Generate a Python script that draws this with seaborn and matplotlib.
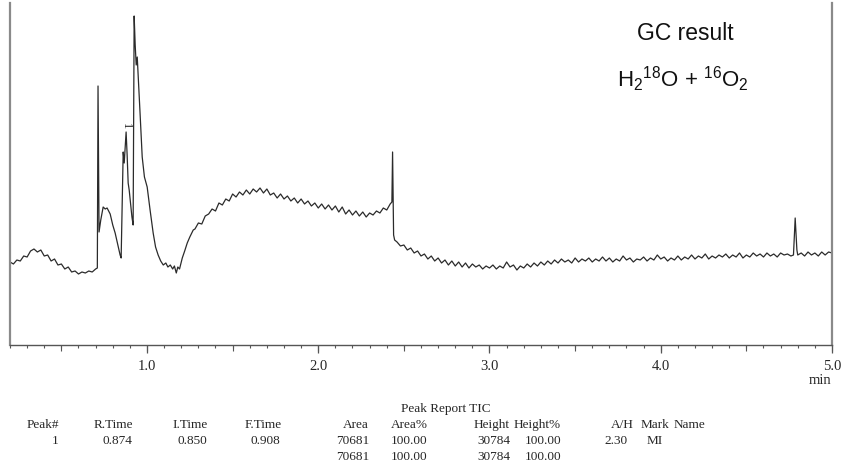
import numpy as np
import pandas as pd
import matplotlib
matplotlib.use("Agg")
import matplotlib.pyplot as plt
import matplotlib.ticker as mtick
import seaborn as sns

# chromatogram trace (retention time in min, detector signal in arbitrary units)
time = [
    0.20, 0.22, 0.24, 0.26, 0.28, 0.30, 0.32, 0.34, 0.36, 0.38, 0.40, 0.42, 0.44,
    0.46, 0.48, 0.50, 0.52, 0.54, 0.56, 0.58, 0.60, 0.62, 0.64, 0.66, 0.68, 0.70, 0.71,
    0.714, 0.720, 0.730, 0.744, 0.756, 0.767, 0.785, 0.800, 0.814, 0.830, 0.843, 0.849,
    0.861, 0.867, 0.878, 0.884, 0.890, 0.896, 0.902, 0.912, 0.919,
    0.925, 0.931, 0.937, 0.943, 0.949, 0.960, 0.972, 0.985, 1.001, 1.018, 1.036,
    1.050, 1.065, 1.080, 1.095, 1.110, 1.122, 1.136, 1.150, 1.160, 1.171, 1.180,
    1.190, 1.206, 1.220, 1.235, 1.250, 1.270,
    1.28, 1.30, 1.32, 1.34, 1.36, 1.38, 1.40, 1.42, 1.44, 1.46, 1.48, 1.50, 1.52,
    1.54, 1.56, 1.58, 1.60, 1.62, 1.64, 1.66, 1.68, 1.70, 1.72, 1.74, 1.76, 1.78,
    1.80, 1.82, 1.84, 1.86, 1.88, 1.90, 1.92, 1.94, 1.96, 1.98, 2.00, 2.02, 2.04,
    2.06, 2.08, 2.10, 2.12, 2.14, 2.16, 2.18, 2.20, 2.22, 2.24, 2.26, 2.28, 2.30,
    2.32, 2.34, 2.36, 2.38, 2.40, 2.42,
    2.430, 2.434, 2.440, 2.446,
    2.46, 2.48, 2.50, 2.52, 2.54, 2.56, 2.58, 2.60, 2.62, 2.64, 2.66, 2.68, 2.70,
    2.72, 2.74, 2.76, 2.78, 2.80, 2.82, 2.84, 2.86, 2.88, 2.90, 2.92, 2.94, 2.96,
    2.98, 3.00, 3.02, 3.04, 3.06, 3.08, 3.10, 3.12, 3.14, 3.16, 3.18, 3.20, 3.22,
    3.24, 3.26, 3.28, 3.30, 3.32, 3.34, 3.36, 3.38, 3.40, 3.42, 3.44, 3.46, 3.48,
    3.50, 3.52, 3.54, 3.56, 3.58, 3.60, 3.62, 3.64, 3.66, 3.68, 3.70, 3.72, 3.74,
    3.76, 3.78, 3.80, 3.82, 3.84, 3.86, 3.88, 3.90, 3.92, 3.94, 3.96, 3.98, 4.00,
    4.02, 4.04, 4.06, 4.08, 4.10, 4.12, 4.14, 4.16, 4.18, 4.20, 4.22, 4.24, 4.26,
    4.28, 4.30, 4.32, 4.34, 4.36, 4.38, 4.40, 4.42, 4.44, 4.46, 4.48, 4.50, 4.52,
    4.54, 4.56, 4.58, 4.60, 4.62, 4.64, 4.66, 4.68, 4.70, 4.72, 4.74, 4.76,
    4.775, 4.785, 4.795,
    4.80, 4.82, 4.84, 4.86, 4.88, 4.90, 4.92, 4.94, 4.96, 4.98, 5.00,
]
signal = [
    83, 81, 85, 84, 89, 88, 94, 96, 93, 95, 89, 90, 84,
    86, 80, 81, 76, 78, 73, 74, 71, 73, 72, 74, 73, 76, 77,
    259, 113, 125, 138, 136, 137, 131, 120, 112, 100, 90, 87,
    193, 182, 213, 190, 162, 155, 145, 128, 120,
    329, 300, 280, 288, 268, 230, 188, 168, 158, 135, 112,
    98, 90, 84, 80, 82, 78, 80, 76, 79, 72, 78,
    76, 87, 94, 102, 108, 115,
    116, 122, 121, 129, 131, 136, 134, 142, 140, 146, 144, 151, 148,
    153, 150, 155, 151, 156, 153, 157, 152, 156, 150, 152, 147, 151,
    146, 149, 144, 147, 142, 146, 141, 144, 139, 142, 137, 141, 136,
    140, 135, 139, 133, 138, 131, 135, 130, 134, 129, 133, 128, 132,
    130, 134, 132, 137, 135, 141,
    143, 193, 110, 105,
    103, 99, 100, 95, 97, 92, 94, 89, 91, 86, 89, 84, 87,
    82, 85, 80, 84, 79, 83, 78, 82, 77, 81, 78, 80, 76,
    79, 77, 80, 76, 79, 77, 83, 78, 80, 75, 79, 77, 81,
    78, 82, 79, 83, 80, 84, 81, 85, 82, 86, 83, 85, 82,
    87, 83, 86, 84, 87, 83, 86, 84, 88, 84, 87, 83, 86,
    84, 89, 85, 87, 83, 86, 85, 88, 84, 87, 85, 90, 86,
    88, 84, 87, 85, 89, 85, 88, 86, 90, 86, 89, 87, 91,
    86, 89, 87, 90, 88, 91, 87, 90, 88, 92, 87, 90, 88,
    92, 89, 91, 88, 92, 89, 91, 88, 92, 90, 91, 89,
    90, 127, 95,
    90, 92, 89, 93, 90, 92, 89, 93, 90, 93, 92,
]

# peak label
peak_label = "1"
peak_time = 0.874
peak_label_height = 219

# peak report table
report_title = "Peak Report TIC"
report_header = ["Peak#", "R.Time", "I.Time", "F.Time", "Area", "Area%",
                 "Height", "Height%", "A/H", "Mark", "Name"]
report_row1 = ["1", "0.874", "0.850", "0.908", "70681", "100.00",
               "30784", "100.00", "2.30", "MI", ""]
report_total = ["", "", "", "", "70681", "100.00", "30784", "100.00", "", "", ""]

df = pd.DataFrame({"time": time, "signal": signal})

sns.set_style("white")
plt.rcParams["font.family"] = ["Liberation Serif", "DejaVu Serif"]

W, H = 843, 473
fig = plt.figure(figsize=(W / 100, H / 100), dpi=100)
ax = fig.add_axes([10 / W, 1 - 345 / H, 822 / W, 342 / H])

sns.lineplot(data=df, x="time", y="signal", ax=ax, estimator=None, sort=False,
             color="#2b2b2b", linewidth=0.9)

ax.set_xlim(0.2, 5.0)
ax.set_ylim(0, 342)
ax.set_xlabel("")
ax.set_ylabel("")
ax.set_yticks([])

for side in ["left", "right"]:
    ax.spines[side].set_color("#8a8a8a")
    ax.spines[side].set_linewidth(1.6)
ax.spines["bottom"].set_color("#555555")
ax.spines["bottom"].set_linewidth(1.0)
ax.spines["top"].set_visible(False)

ax.xaxis.set_major_locator(mtick.MultipleLocator(1.0))
ax.xaxis.set_minor_locator(mtick.MultipleLocator(0.1))
ax.xaxis.set_major_formatter(mtick.FormatStrFormatter("%.1f"))
ax.tick_params(axis="x", which="major", direction="out", length=6, width=0.9,
               color="#555555", labelsize=10.5, pad=5, bottom=True)
ax.tick_params(axis="x", which="minor", direction="out", length=2.5, width=0.8,
               color="#555555", bottom=True)

# half-minute ticks, a bit longer than the minor ones
sec = ax.secondary_xaxis("bottom")
sec.xaxis.set_major_locator(mtick.MultipleLocator(0.5))
sec.tick_params(axis="x", direction="out", length=4, width=0.8,
                color="#555555", labelbottom=False)
sec.spines["bottom"].set_visible(False)

fig.text(831 / W, 1 - 380 / H, "min", ha="right", va="center", fontsize=10.5)

# peak number marker
ax.text(peak_time, peak_label_height, peak_label, rotation=270, ha="center",
        va="center", fontsize=9, color="#222222")

# annotations
sans = ["Liberation Sans", "DejaVu Sans"]
fig.text(685 / W, 1 - 33 / H, "GC result", ha="center", va="center",
         fontsize=16.5, family=sans, color="#111111")
fig.text(683 / W, 1 - 79 / H,
         r"H$\mathregular{_2}$$\mathregular{^{18}}$O + $\mathregular{^{16}}$O$\mathregular{_2}$",
         ha="center", va="center", fontsize=16, family=sans, color="#111111")

# peak report table
fig.text(446 / W, 1 - 409 / H, report_title, ha="center", va="center", fontsize=9.5)
header_x = [59, 133, 208, 282, 369, 391, 510, 561, 634, 641, 674]
header_ha = ["right", "right", "right", "right", "right", "left",
             "right", "right", "right", "left", "left"]
value_x = [59, 132, 207, 280, 369, 391, 510, 561, 628, 647, 674]
for i, lab in enumerate(report_header):
    fig.text(header_x[i] / W, 1 - 425 / H, lab, ha=header_ha[i], va="center", fontsize=9.5)
for row, yy in [(report_row1, 441), (report_total, 457)]:
    for i, val in enumerate(row):
        if val:
            fig.text(value_x[i] / W, 1 - yy / H, val, ha=header_ha[i], va="center",
                     fontsize=9.5)

fig.savefig("out.png", dpi=100)
